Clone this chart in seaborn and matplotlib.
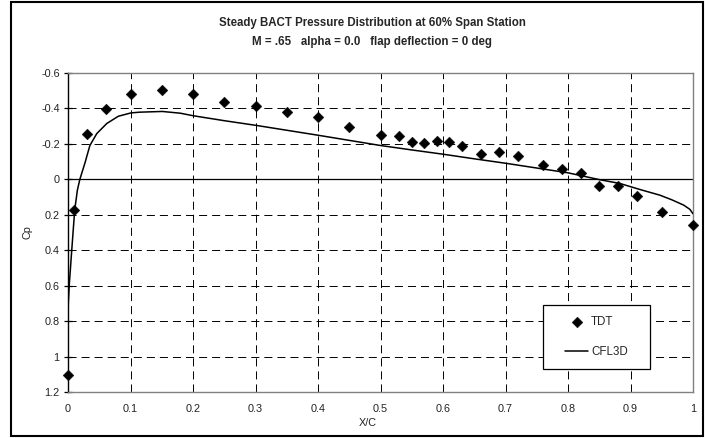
import matplotlib
matplotlib.use("Agg")
import matplotlib.pyplot as plt
import matplotlib.patches as mpatches
from matplotlib.ticker import FuncFormatter
import pandas as pd
import seaborn as sns

# Wind-tunnel (TDT) pressure taps
tdt_x = [0.0, 0.01, 0.03, 0.06, 0.10, 0.15, 0.20, 0.25, 0.30, 0.35, 0.40, 0.45,
         0.50, 0.53, 0.55, 0.57, 0.59, 0.61, 0.63, 0.66, 0.69, 0.72, 0.76, 0.79,
         0.82, 0.85, 0.88, 0.91, 0.95, 1.0]
tdt_cp = [1.105, 0.175, -0.255, -0.394, -0.479, -0.501, -0.479, -0.434, -0.413,
          -0.377, -0.351, -0.293, -0.248, -0.243, -0.207, -0.203, -0.214, -0.209,
          -0.186, -0.143, -0.153, -0.130, -0.079, -0.058, -0.034, 0.037, 0.038,
          0.095, 0.186, 0.259]

# CFL3D computed distribution
cfd_x = [0.0, 0.0005, 0.002, 0.006, 0.0107, 0.015, 0.019, 0.027, 0.035, 0.046,
         0.062, 0.0805, 0.101, 0.115, 0.151, 0.18, 0.2, 0.25, 0.30, 0.35, 0.40,
         0.45, 0.50, 0.55, 0.60, 0.65, 0.70, 0.75, 0.80, 0.851, 0.883, 0.915,
         0.947, 0.966, 0.985, 0.995, 1.0]
cfd_cp = [0.78, 0.70, 0.597, 0.40, 0.175, 0.062, 0.0, -0.09, -0.19, -0.257,
          -0.314, -0.355, -0.374, -0.378, -0.382, -0.372, -0.358, -0.330, -0.304,
          -0.276, -0.248, -0.219, -0.190, -0.165, -0.141, -0.115, -0.090, -0.063,
          -0.036, 0.003, 0.024, 0.058, 0.090, 0.116, 0.146, 0.170, 0.195]

x_ticks = [0, 0.1, 0.2, 0.3, 0.4, 0.5, 0.6, 0.7, 0.8, 0.9, 1]
y_ticks = [-0.6, -0.4, -0.2, 0, 0.2, 0.4, 0.6, 0.8, 1, 1.2]

sns.set_theme(style="white")
plt.rcParams["font.family"] = ["Liberation Sans", "DejaVu Sans"]
plt.rcParams["lines.scale_dashes"] = False

W, H = 705, 438
fig = plt.figure(figsize=(W / 100, H / 100), dpi=100)
fig.patch.set_facecolor("white")


def fig_box(x0, y0, x1, y1, **kw):
    """Rectangle given in pixel coordinates measured from the top-left corner."""
    return mpatches.Rectangle((x0 / W, 1 - y1 / H), (x1 - x0) / W, (y1 - y0) / H,
                              transform=fig.transFigure, **kw)


# chart border
fig.patches.append(fig_box(11, 1.5, 703, 435.5, fill=False, edgecolor="black",
                           linewidth=1.5))

left, right, top, bottom = 68, 693, 72.8, 392
ax = fig.add_axes([left / W, 1 - bottom / H, (right - left) / W, (bottom - top) / H])
ax.set_facecolor("white")

df_tdt = pd.DataFrame({"x": tdt_x, "cp": tdt_cp})
df_cfd = pd.DataFrame({"x": cfd_x, "cp": cfd_cp})

dash = (0, (5.8, 3.6))
for xv in x_ticks[1:]:
    ax.axvline(xv, color="black", lw=0.7, linestyle=dash, zorder=1)
for yv in y_ticks[1:-1]:
    if yv != 0:
        ax.axhline(yv, color="black", lw=0.7, linestyle=dash, zorder=1)
ax.axhline(0, color="black", lw=0.9, zorder=2)

sns.lineplot(data=df_cfd, x="x", y="cp", sort=False, color="black", lw=1.1,
             ax=ax, zorder=3, label="CFL3D")
sns.scatterplot(data=df_tdt, x="x", y="cp", marker="D", s=30, color="black",
                edgecolor="black", linewidth=0.3, ax=ax, zorder=4, label="TDT",
                clip_on=False)

ax.set_xlim(0, 1)
ax.set_ylim(1.2, -0.6)
ax.set_xticks(x_ticks)
ax.set_yticks(y_ticks)
fmt = FuncFormatter(lambda v, p: f"{v:g}")
ax.xaxis.set_major_formatter(fmt)
ax.yaxis.set_major_formatter(fmt)
ax.tick_params(axis="x", length=0, pad=9, labelsize=7.8, colors="#222222")
ax.tick_params(axis="y", direction="inout", length=6, width=0.9, pad=3,
               labelsize=7.8, colors="black", labelcolor="#222222", left=True)

for side in ["top", "right", "bottom"]:
    ax.spines[side].set_color("#808080")
    ax.spines[side].set_linewidth(1.0)
ax.spines["left"].set_color("black")
ax.spines["left"].set_linewidth(1.0)

ax.set_xlabel("X/C", fontsize=7.8, color="#222222")
ax.xaxis.set_label_coords((368 - left) / (right - left), -(418.5 - bottom) / (bottom - top))
ax.set_ylabel("Cp", fontsize=7.8, labelpad=6, color="#222222")

# legend: entries without frame, box drawn separately behind them
handles, labels = ax.get_legend_handles_labels()
order = [labels.index("TDT"), labels.index("CFL3D")]
lx0, ly0 = 565, 316
leg = ax.legend([handles[i] for i in order], [labels[i] for i in order],
                loc="upper left",
                bbox_to_anchor=(lx0 / W, 1 - ly0 / H), bbox_transform=fig.transFigure,
                frameon=False, fontsize=8.3, handlelength=2.0, handletextpad=0.25,
                labelspacing=1.6, borderpad=0, borderaxespad=0)
leg.set_zorder(6)
leg_box = fig_box(542.7, 305, 650, 369, fill=True, facecolor="white",
                  edgecolor="black", linewidth=0.9, zorder=5, clip_on=False)
ax.add_artist(leg_box)

title_fam = ["Liberation Sans Narrow", "Liberation Sans", "DejaVu Sans"]
fig.text(0.528, 1 - 22.7 / H, "Steady BACT Pressure Distribution at 60% Span Station",
         ha="center", va="center", fontsize=8.3, fontweight="bold", family=title_fam)
fig.text(0.528, 1 - 41.7 / H, "M = .65   alpha = 0.0   flap deflection = 0 deg",
         ha="center", va="center", fontsize=8.3, fontweight="bold", family=title_fam)

fig.savefig("out.png", dpi=100)
